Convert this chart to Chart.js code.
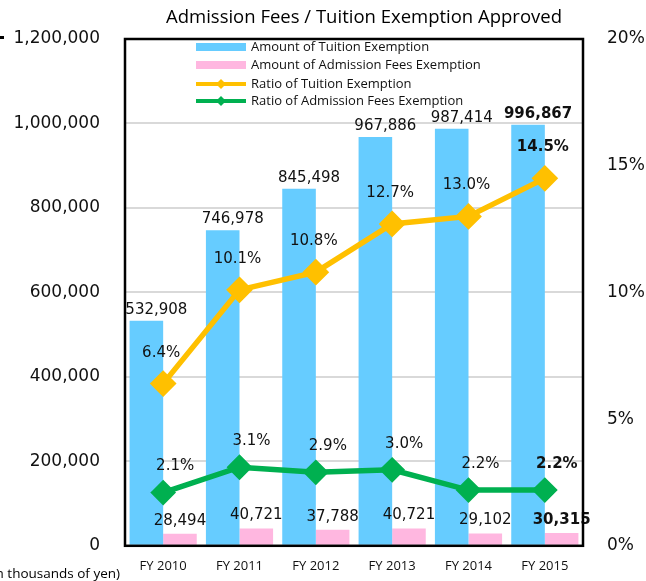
<!DOCTYPE html>
<html>
<head>
<meta charset="utf-8">
<title>Admission Fees / Tuition Exemption Approved</title>
<script src="https://cdn.jsdelivr.net/npm/chart.js@4.4.1/dist/chart.umd.min.js"></script>
<style>
  html, body { margin: 0; padding: 0; background: #fff; }
  #wrap { width: 646px; height: 581px; }
</style>
</head>
<body>
<div id="wrap"><canvas id="feesCanvas" width="646" height="581"></canvas></div>
<script>
  /* data */
  const categories = ["FY 2010", "FY 2011", "FY 2012", "FY 2013", "FY 2014", "FY 2015"];
  const tuitionAmount = [532908, 746978, 845498, 967886, 987414, 996867];
  const admissionAmount = [28494, 40721, 37788, 40721, 29102, 30315];
  const tuitionRatio = [6.4, 10.1, 10.8, 12.7, 13.0, 14.5];
  const admissionRatio = [2.1, 3.1, 2.9, 3.0, 2.2, 2.2];
  const amountTicks = [0, 200000, 400000, 600000, 800000, 1000000, 1200000];
  const ratioTicks = [0, 5, 10, 15, 20];

  const numFont = "'DejaVu Sans', Verdana, sans-serif";
  const txtFont = "'Open Sans', 'Noto Sans', sans-serif";

  function fmtAmount(v) {
    return Number(v).toLocaleString("en-US");
  }
  function fmtRatio(v) {
    return Number(v).toFixed(1) + "%";
  }

  // frame, title, legend, value labels and the clipped unit caption
  const decorations = {
    id: "decorations",
    afterDatasetsDraw(chart) {
      const ctx = chart.ctx;
      const area = chart.chartArea;
      const last = categories.length - 1;
      ctx.save();

      // value labels
      ctx.textAlign = "center";
      ctx.textBaseline = "middle";
      ctx.fillStyle = "#111";
      chart.data.datasets.forEach(function (ds, i) {
        const meta = chart.getDatasetMeta(i);
        meta.data.forEach(function (el, j) {
          const bold = j === last ? "bold " : "";
          ctx.font = bold + "15px " + numFont;
          const x = el.x + ds.labelDx;
          const y = el.y + ds.labelDy;
          const txt = ds.type === "line" ? fmtRatio(ds.data[j]) : fmtAmount(ds.data[j]);
          ctx.fillText(txt, x, y);
        });
      });

      // plot frame
      ctx.strokeStyle = "#000";
      ctx.lineWidth = 2.5;
      ctx.strokeRect(area.left, area.top, area.right - area.left, area.bottom - area.top);

      // legend
      ctx.font = "13px " + txtFont;
      ctx.textAlign = "left";
      ctx.textBaseline = "middle";
      const rows = [47, 65, 84, 101];
      chart.data.datasets.forEach(function (ds, i) {
        const y = rows[i];
        if (ds.type === "line") {
          ctx.strokeStyle = ds.borderColor;
          ctx.lineWidth = 4;
          ctx.beginPath();
          ctx.moveTo(196, y);
          ctx.lineTo(246, y);
          ctx.stroke();
          ctx.fillStyle = ds.borderColor;
          ctx.beginPath();
          ctx.moveTo(221, y - 5);
          ctx.lineTo(226, y);
          ctx.lineTo(221, y + 5);
          ctx.lineTo(216, y);
          ctx.closePath();
          ctx.fill();
        } else {
          ctx.fillStyle = ds.backgroundColor;
          ctx.fillRect(196, y - 4, 50, 8);
        }
        ctx.fillStyle = "#111";
        ctx.fillText(ds.label, 251, y);
      });

      // title
      ctx.font = "18.5px " + txtFont;
      ctx.textAlign = "center";
      ctx.fillStyle = "#000";
      ctx.fillText("Admission Fees / Tuition Exemption Approved", 364, 18);

      // unit caption, cut off at the left edge like the original
      ctx.font = "13.5px " + txtFont;
      ctx.textAlign = "right";
      ctx.fillText("(in thousands of yen)", 120, 574);
      ctx.fillRect(0, 36, 4, 3);

      ctx.restore();
    },
  };

  window.onload = function () {
    const ctx = document.getElementById("feesCanvas").getContext("2d");
    window.feesChart = new Chart(ctx, {
      type: "bar",
      data: {
        labels: categories,
        datasets: [
          {
            type: "bar",
            label: "Amount of Tuition Exemption",
            data: tuitionAmount,
            backgroundColor: "#66CCFF",
            yAxisID: "y",
            order: 2,
            labelDx: 10,
            labelDy: -11,
          },
          {
            type: "bar",
            label: "Amount of Admission Fees Exemption",
            data: admissionAmount,
            backgroundColor: "#FFB7E0",
            yAxisID: "y",
            order: 2,
            labelDx: 0,
            labelDy: -13,
          },
          {
            type: "line",
            label: "Ratio of Tuition Exemption",
            data: tuitionRatio,
            borderColor: "#FFC000",
            backgroundColor: "#FFC000",
            borderWidth: 5.5,
            pointStyle: "rectRot",
            pointRadius: 9.5,
            pointHoverRadius: 9.5,
            yAxisID: "y1",
            order: 1,
            labelDx: -2,
            labelDy: -31,
          },
          {
            type: "line",
            label: "Ratio of Admission Fees Exemption",
            data: admissionRatio,
            borderColor: "#00B050",
            backgroundColor: "#00B050",
            borderWidth: 5.5,
            pointStyle: "rectRot",
            pointRadius: 9,
            pointHoverRadius: 9,
            yAxisID: "y1",
            order: 1,
            labelDx: 12,
            labelDy: -26,
          },
        ],
      },
      options: {
        responsive: false,
        animation: false,
        devicePixelRatio: 1,
        categoryPercentage: 0.88,
        barPercentage: 1.0,
        layout: {
          padding: { top: 39, left: 0, right: 0, bottom: 0 },
        },
        plugins: {
          legend: { display: false },
          title: { display: false },
          tooltip: { enabled: false },
        },
        scales: {
          x: {
            grid: { display: false, drawTicks: false },
            border: { display: false },
            ticks: {
              color: "#111",
              font: { family: txtFont, size: 13 },
              padding: 13,
            },
            afterFit: function (scale) {
              scale.height = 32;
            },
          },
          y: {
            position: "left",
            min: 0,
            max: 1200000,
            grid: { color: "#d9d9d9", lineWidth: 2, drawTicks: false },
            border: { display: false },
            afterBuildTicks: function (scale) {
              scale.ticks = amountTicks.map((v) => ({ value: v }));
            },
            ticks: {
              color: "#111",
              font: { family: numFont, size: 17 },
              padding: 25,
              callback: (v) => fmtAmount(v),
            },
            afterFit: function (scale) {
              scale.width = 125;
            },
          },
          y1: {
            position: "right",
            min: 0,
            max: 20,
            grid: { display: false, drawTicks: false },
            border: { display: false },
            afterBuildTicks: function (scale) {
              scale.ticks = ratioTicks.map((v) => ({ value: v }));
            },
            ticks: {
              color: "#111",
              font: { family: numFont, size: 17 },
              padding: 24,
              callback: (v) => v + "%",
            },
            afterFit: function (scale) {
              scale.width = 63;
            },
          },
        },
      },
      plugins: [decorations],
    });
  };
</script>
</body>
</html>
